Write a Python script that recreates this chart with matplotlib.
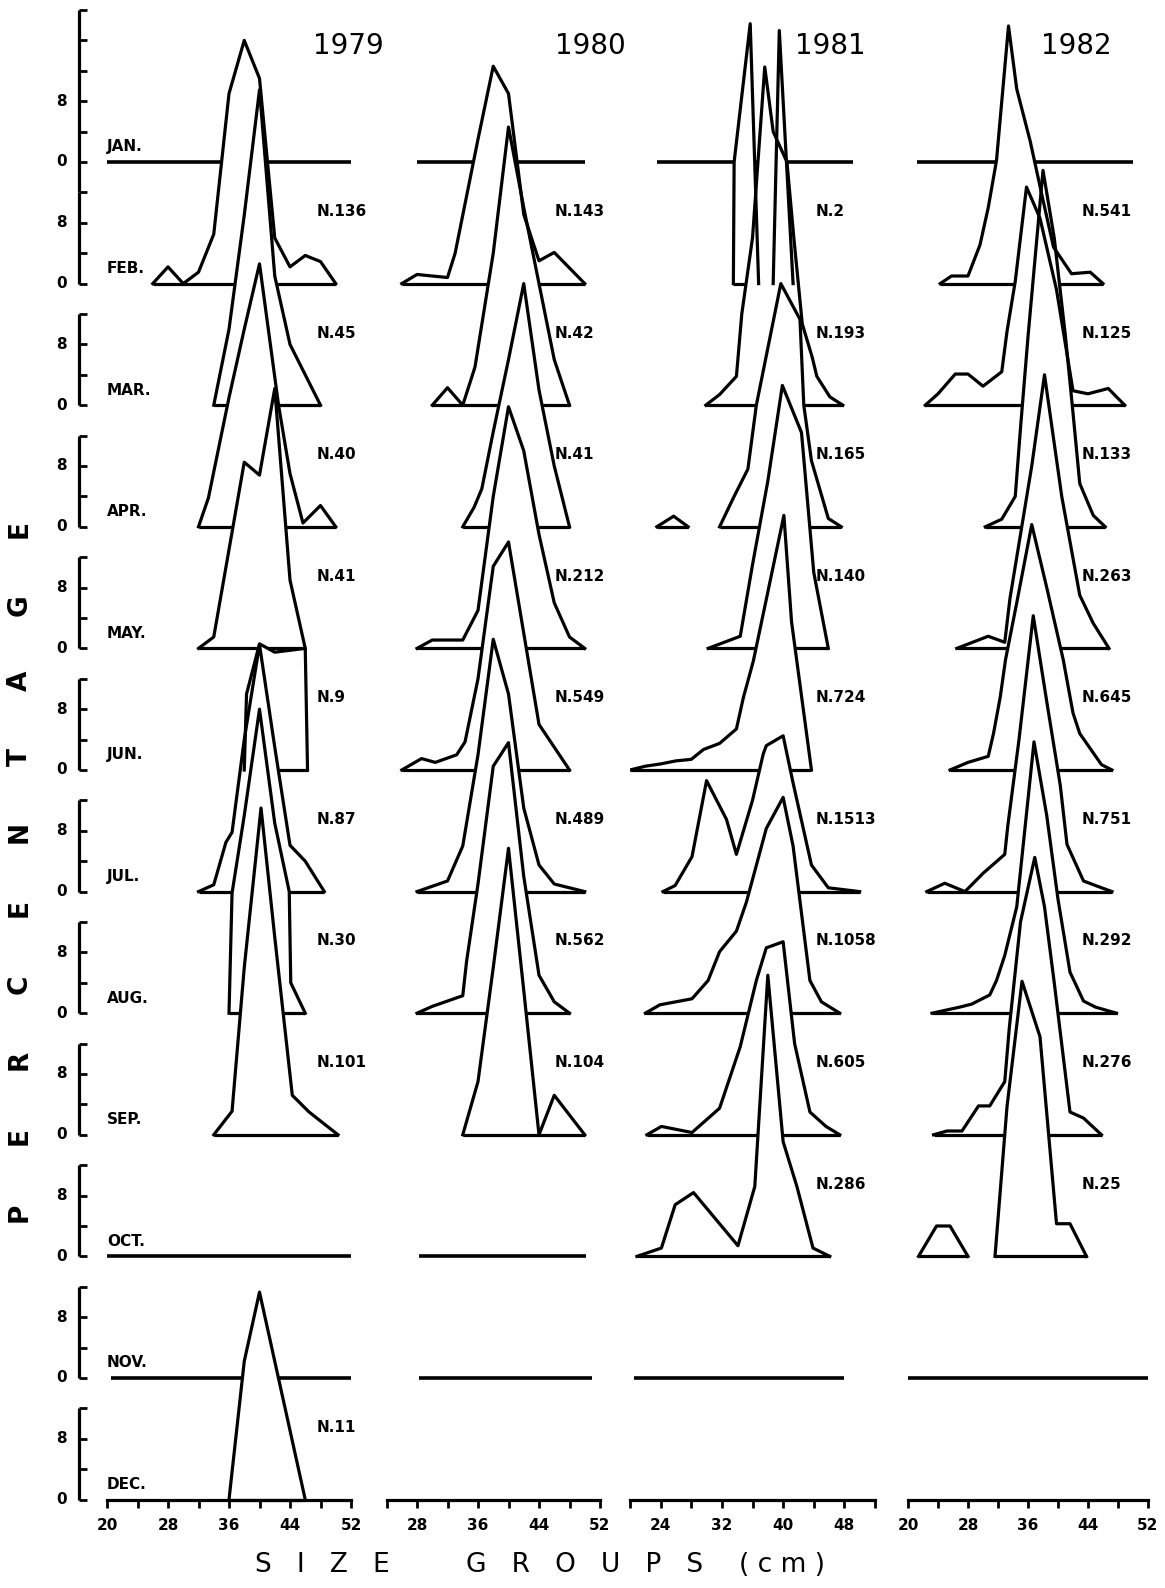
import matplotlib
matplotlib.use("Agg")
import matplotlib.pyplot as plt
import numpy as np

MONTHS = ["JAN.", "FEB.", "MAR.", "APR.", "MAY.", "JUN.",
          "JUL.", "AUG.", "SEP.", "OCT.", "NOV.", "DEC."]
YEARS = ["1979", "1980", "1981", "1982"]
ROW = 16          # percent between two month baselines

# size groups (cm) and percentage per month, None = no sample that month
cm_1979 = [None,
           [26, 28, 30, 32, 34, 36, 38, 40, 42, 44, 46, 48, 50],
           [34, 36, 38, 40, 42, 44, 46, 48],
           [32, 33.3, 36, 38, 40, 42.5, 44, 45.7, 48, 50],
           [32, 34, 36, 38, 40, 42, 44, 46],
           [38, 38.3, 40, 42, 46, 46.3],
           [32, 34, 35.6, 36.4, 38, 40, 42, 44, 46, 48.5],
           [36, 36.4, 38, 40, 42, 43.9, 44.1, 46],
           [34, 36.4, 38, 40.2, 42, 44.3, 46.5, 50.3],
           None, None,
           [36, 38, 40, 42, 44, 46]]
pct_1979 = [None,
            [0, 2.2, 0, 1.5, 6.5, 25, 32, 27, 6, 2.2, 3.7, 2.9, 0],
            [0, 10, 25, 41.5, 17, 8, 4, 0],
            [0, 3.8, 17, 26, 34.6, 16, 7, 0.5, 2.8, 0],
            [0, 1.5, 13, 24.5, 22.8, 34.2, 9, 0],
            [0, 10, 16.6, 15.5, 16, 0],
            [0, 0.9, 6.5, 7.8, 20, 32.5, 19, 6.1, 4, 0],
            [0, 15.8, 26, 40, 25, 16, 4, 0],
            [0, 3.1, 22, 43, 26, 5.2, 3, 0],
            None, None,
            [0, 18.2, 27.3, 18.2, 9.1, 0]]
n_1979 = [None, "N.136", "N.45", "N.40", "N.41", "N.9", "N.87", "N.30",
          "N.101", None, None, "N.11"]
empty_1979 = {0: (20, 52), 9: (20, 52), 10: (20.5, 52)}

cm_1980 = [None,
           [26, 28, 32, 33, 34, 36, 38, 40, 42, 44, 46, 50],
           [30, 32, 34, 35.6, 38, 40, 42, 44, 46, 48],
           [34, 35.5, 36.5, 38, 40, 42, 44, 46, 48],
           [28, 30, 34, 36, 38, 40, 42, 44, 46, 48, 50],
           [26, 28.6, 30.4, 33.2, 34.3, 36, 38, 40, 42, 44, 46, 48],
           [28, 30, 32, 34, 36, 38, 40, 42, 44, 46, 48, 50],
           [28, 30, 34, 34.5, 36, 38, 40, 42, 44, 46, 48],
           [34, 36, 38, 40, 42, 44, 46, 50],
           None, None, None]
pct_1980 = [None,
            [0, 1.2, 0.8, 4, 9, 19, 28.6, 25, 9.1, 3, 4.1, 0],
            [0, 2.3, 0, 5, 20, 36.6, 26, 16, 6, 0],
            [0, 2.6, 5, 12.5, 22, 32, 18, 8, 0],
            [0, 1.1, 1.1, 5, 20, 31.8, 26, 15, 6, 1.5, 0],
            [0, 1.5, 1, 2, 3.7, 12, 26.8, 30, 18, 6, 3, 0],
            [0, 0.7, 1.4, 6, 18, 33.2, 26, 11, 3.5, 1, 0.5, 0],
            [0, 0.9, 2.3, 6.8, 17, 32.5, 35.6, 18, 5, 1.5, 0],
            [0, 7, 22, 37.7, 19, 0, 5.2, 0],
            None, None, None]
n_1980 = [None, "N.143", "N.42", "N.41", "N.212", "N.549", "N.489", "N.562",
          "N.104", None, None, None]
empty_1980 = {0: (28, 50), 9: (28.3, 50.2), 10: (28.3, 51)}

cm_1981 = [None,
           [33.5, 33.6, 35.7, 36.8, 38.7, 39.5, 41.3],
           [29.9, 31.7, 33.9, 34.6, 36, 37.6, 38.7, 40.5, 41.4, 42.5, 43.8, 44.4, 46.1, 47.8],
           [23.5, 25.7, 27.6, 31.7, 33.5, 35.4, 36.5, 39.7, 42.2, 42.7, 43.7, 45.9, 47.6],
           [30.2, 34.4, 36, 38, 39.9, 42.4, 44, 45.9],
           [20, 22, 24, 26, 28, 29.6, 31.7, 33.9, 34.8, 36.1, 38, 40.1, 41.1, 43.7],
           [24.3, 25.9, 28.1, 30, 32.6, 33.9, 36, 37.4, 37.8, 40, 41.3, 43.7, 45.9, 50],
           [22, 23.9, 28.1, 30.2, 31.7, 33.9, 35.2, 37.8, 40, 41.3, 43.5, 45, 47.4],
           [22.2, 24.1, 28.1, 31.7, 34.4, 36.5, 37.8, 40, 41.5, 43.5, 45.6, 47.4],
           [20.9, 24.1, 25.9, 28.3, 34.1, 36.3, 38, 40, 41.8, 43.9, 46.1],
           None, None]
pct_1981 = [None,
            [0, 16, 34.2, 0, 0, 33.3, 0],
            [0, 1.4, 3.8, 12, 22, 44.5, 36, 32, 22, 10.7, 6.3, 3.8, 1.1, 0],
            [0, 1.4, 0, 0, 3.8, 7.6, 16, 32, 27.3, 16, 8.7, 1.1, 0],
            [0, 1.6, 11, 22, 34.6, 28.4, 10, 0],
            [0, 0.5, 0.8, 1.2, 1.4, 2.7, 3.5, 5.4, 9.5, 14.3, 23.4, 33.5, 19.5, 0],
            [0, 0.8, 4.6, 14.6, 9.5, 4.9, 12, 18.1, 19.2, 20.5, 14.3, 3.5, 0.5, 0],
            [0, 1.1, 1.9, 4.3, 8.1, 10.8, 14.6, 24.3, 28.4, 22, 4.3, 1.5, 0],
            [0, 1.1, 0.3, 3.5, 11.6, 20.3, 24.6, 25.4, 12, 3, 1.1, 0],
            [0, 1.1, 6.8, 8.4, 1.4, 9.2, 37, 15.1, 9.2, 1.1, 0],
            None, None]
n_1981 = [None, "N.2", "N.193", "N.165", "N.140", "N.724", "N.1513", "N.1058",
          "N.605", "N.286", None, None]
empty_1981 = {0: (23.5, 49.1), 10: (20.5, 48)}

cm_1982 = [None,
           [24.3, 25.8, 28, 29.6, 30.7, 31.8, 33.4, 34.5, 36.3, 38, 39.4, 41.8, 44.3, 46],
           [22.3, 24, 26.3, 28, 30, 32.5, 33.2, 34.3, 35.8, 37.6, 39.8, 42, 44, 46.7, 48.9],
           [30.3, 32.5, 34.3, 35, 36, 38, 39.5, 41, 42, 42.9, 44.7, 46.3],
           [26.5, 30.7, 32.9, 33.6, 36.5, 38.2, 40.5, 42.9, 44.7, 46.8],
           [25.6, 28, 30.7, 31.4, 32.3, 33, 34.5, 36.5, 38.5, 40.7, 42, 42.9, 45.8, 47.2],
           [22.5, 24.9, 27.6, 30, 32.9, 33.3, 34.8, 36.7, 38.5, 40.3, 41.2, 43.4, 45, 47.2],
           [23.2, 26.9, 28.5, 30.9, 31.8, 32.9, 34.5, 36.8, 38.5, 40, 41.6, 43.4, 45, 47.8],
           [23.4, 25.2, 27.2, 29.4, 30.9, 32.9, 33.5, 35, 36.9, 38.2, 39.5, 41.6, 43.4, 45.8],
           [21.4, 23.8, 25.6, 28, 31.6, 33.2, 35.2, 37.6, 39.8, 41.6, 43.8],
           None, None]
pct_1982 = [None,
            [0, 1, 1, 5.1, 10, 16.2, 33.9, 25.6, 18.7, 11, 4.8, 1.3, 1.5, 0],
            [0, 1.5, 4.1, 4.1, 2.5, 4.4, 9.7, 16.3, 28.7, 24.6, 15.2, 1.9, 1.5, 2.2, 0],
            [0, 1, 4, 13, 25, 46.9, 38, 25, 15, 5.7, 1.5, 0],
            [0, 1.6, 0.8, 6.6, 24, 36, 20, 7, 3.3, 0],
            [0, 1, 1.8, 4.8, 9.6, 14.5, 22, 32.3, 24, 14.5, 7.5, 4.8, 0.7, 0],
            [0, 1.1, 0, 2.4, 4.9, 8.6, 20, 36.3, 25, 14, 6.2, 1.4, 0.8, 0],
            [0, 0.8, 1.2, 2.4, 4.3, 7.6, 14, 35.7, 26, 15, 5.4, 1.6, 0.8, 0],
            [0, 0.5, 0.5, 3.8, 3.8, 7, 14, 28, 36.5, 30, 20, 3, 2.2, 0],
            [0, 4, 4, 0, 0, 19.7, 36.2, 28.9, 4.3, 4.3, 0],
            None, None]
n_1982 = [None, "N.541", "N.125", "N.133", "N.263", "N.645", "N.751", "N.292",
          "N.276", "N.25", None, None]
empty_1982 = {0: (21.2, 50), 10: (20, 52)}

xmajor = [[20, 28, 36, 44, 52], [28, 36, 44, 52], [24, 32, 40, 48], [20, 28, 36, 44, 52]]
xminor = [[24, 32, 40, 48], [24, 32, 40, 48], [20, 28, 36, 44, 52], [24, 32, 40, 48]]
xbounds = [(20, 52), (24, 52), (20, 52), (20, 52)]

cms = [cm_1979, cm_1980, cm_1981, cm_1982]
pcts = [pct_1979, pct_1980, pct_1981, pct_1982]
nlabels = [n_1979, n_1980, n_1981, n_1982]
empties = [empty_1979, empty_1980, empty_1981, empty_1982]

INK = "black"
LW = 2.3
W, H = 1165, 1588
PX = 7.6                      # pixels per percent
y_top = 162 / PX
y_bot = -(H - 162) / PX
col_px = [(107, 351), (356, 600), (630, 875), (908, 1148)]
n_x = [47.5, 46.1, 44.3, 43.2]
year_x = [51.7, 50.8, 46.2, 42.5]

fig = plt.figure(figsize=(W / 100, H / 100), dpi=100)
fig.patch.set_facecolor("white")


def draw_poly(ax, xs, ys, base, m):
    xs = np.asarray(xs, float)
    ys = np.asarray(ys, float)
    # break the polygon where the curve runs along the base line
    cuts = [0]
    for k in range(1, len(xs)):
        if ys[k] == 0 and ys[k - 1] == 0:
            cuts.append(k)
    cuts.append(len(xs))
    for a, b in zip(cuts[:-1], cuts[1:]):
        px, py = xs[a:b], ys[a:b] + base
        ax.fill(px, py, color="white", lw=0, zorder=2 + 0.01 * m)
        ax.plot([px[0], px[-1]], [base, base], color=INK, lw=LW,
                zorder=2.005 + 0.01 * m, solid_capstyle="butt")
        ax.plot(px, py, color=INK, lw=LW, zorder=10, solid_joinstyle="round")


axes = []
for c in range(4):
    x0, x1 = col_px[c]
    ax = fig.add_axes([x0 / W, 0, (x1 - x0) / W, 1])
    ax.set_xlim(20, 52)
    ax.set_ylim(y_bot, y_top)
    ax.patch.set_alpha(0)
    for s in ("left", "right", "top"):
        ax.spines[s].set_visible(False)
    ax.spines["bottom"].set_position(("data", -ROW * 11))
    ax.spines["bottom"].set_bounds(*xbounds[c])
    ax.spines["bottom"].set_linewidth(LW)
    ax.set_yticks([])
    ax.set_xticks(xmajor[c])
    ax.set_xticks(xminor[c], minor=True)
    ax.tick_params(which="both", direction="out", length=6, width=2, pad=7)
    ax.set_xticklabels([str(v) for v in xmajor[c]], fontsize=11, fontweight="bold")

    for m in range(12):
        base = -ROW * m
        if cms[c][m] is not None:
            draw_poly(ax, cms[c][m], pcts[c][m], base, m)
            ax.text(n_x[c], base + 9.5, nlabels[c][m], fontsize=11,
                    fontweight="bold", va="center", ha="left", zorder=12)
        elif m in empties[c]:
            lo, hi = empties[c][m]
            ax.plot([lo, hi], [base, base], color=INK, lw=2.6,
                    zorder=2.005 + 0.01 * m, solid_capstyle="butt")
    ax.text(year_x[c], 15.3, YEARS[c], fontsize=20, ha="center", va="center")
    axes.append(ax)

# left percentage scale, one bracket per month
ax = axes[0]
SPINE_X, TICK_X, LAB_X = 16.33, 17.4, 14.0
for m in range(12):
    base = -ROW * m
    top = base + (20 if m == 0 else 12)
    low = base - 4 if m == 0 else base
    ax.plot([SPINE_X, SPINE_X], [low, top], color=INK, lw=LW,
            clip_on=False, solid_capstyle="butt")
    for t in np.arange(base, top + 0.1, 4):
        ax.plot([SPINE_X, TICK_X], [t, t], color=INK, lw=2, clip_on=False,
                solid_capstyle="butt")
    ax.text(LAB_X, base, "0", fontsize=11, fontweight="bold",
            ha="center", va="center", clip_on=False)
    ax.text(LAB_X, base + 8, "8", fontsize=11, fontweight="bold",
            ha="center", va="center", clip_on=False)
    ax.text(20, base + 1.0, MONTHS[m], fontsize=11, fontweight="bold",
            ha="left", va="bottom", zorder=12)

for i, ch in enumerate("PERCENTAGE"):
    fig.text(20 / W, 1 - (1212 - i * 75.9) / H, ch, rotation=90,
             fontsize=19, fontweight="bold", ha="center", va="center")

for txt, cx in (("S   I   Z   E", 322), ("G   R   O   U   P   S", 585),
                ("( c m )", 782)):
    fig.text(cx / W, 1 - 1565 / H, txt, fontsize=19, ha="center", va="center")

fig.savefig("out.png", dpi=100, facecolor="white")
